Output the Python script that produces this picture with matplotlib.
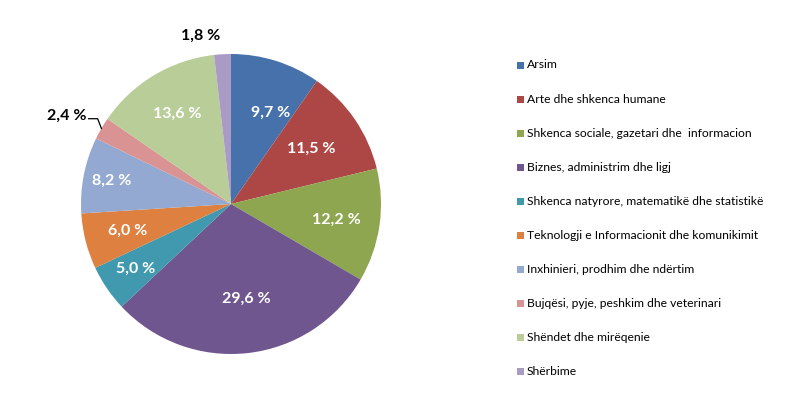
import numpy as np
import matplotlib
matplotlib.use('Agg')
from matplotlib import pyplot as plt
from matplotlib.patches import Rectangle

plt.rcParams['font.family'] = ['Lato', 'DejaVu Sans']

# data
categories = ['Arsim',
              'Arte dhe shkenca humane',
              'Shkenca sociale, gazetari dhe  informacion',
              'Biznes, administrim dhe ligj',
              'Shkenca natyrore, matematikë dhe statistikë',
              'Teknologji e Informacionit dhe komunikimit',
              'Inxhinieri, prodhim dhe ndërtim',
              'Bujqësi, pyje, peshkim dhe veterinari',
              'Shëndet dhe mirëqenie',
              'Shërbime']
values = [9.7, 11.5, 12.2, 29.6, 5.0, 6.0, 8.2, 2.4, 13.6, 1.8]
labels = ['9,7 %', '11,5 %', '12,2 %', '29,6 %', '5,0 %', '6,0 %',
          '8,2 %', '2,4 %', '13,6 %', '1,8 %']
colors = ['#4671AA', '#AD4745', '#8DA64F', '#70568F', '#4099AE',
          '#DD8040', '#93A9D2', '#D89392', '#B8CD97', '#A99BC5']

# label placement inside the wedges (radius, angle shift in degrees)
label_pos = [(0.66, -6), (0.65, 0), (0.71, 0), (0.64, 3), (0.77, 0),
             (0.71, 0), (0.81, 0), None, (0.70, 0), None]

fig = plt.figure(figsize=(7.94, 3.94), dpi=100)
W, H = 794, 394
cx, cy, r = 231, 204, 150
ax = fig.add_axes([(cx - r) / W, (H - cy - r) / H, 2 * r / W, 2 * r / H])

wedges, _ = ax.pie(values, colors=colors, startangle=90, counterclock=False,
                   radius=1, wedgeprops=dict(linewidth=0))
ax.set_xlim(-1, 1)
ax.set_ylim(-1, 1)
ax.set_aspect('equal')
ax.axis('off')

# labels
for i, w in enumerate(wedges):
    if label_pos[i] is None:
        continue
    d, shift = label_pos[i]
    ang = np.deg2rad((w.theta1 + w.theta2) / 2 + shift)
    ax.text(d * np.cos(ang), d * np.sin(ang), labels[i], ha='center', va='center',
            color='white', fontsize=11.5, fontweight='bold')

# small slices: outside labels
w = wedges[7]
ang = np.deg2rad((w.theta1 + w.theta2) / 2)
ex, ey = np.cos(ang), np.sin(ang)
ax.plot([ex, ex - 0.025, ex - 0.085], [ey, ey + 0.065, ey + 0.065], color='black',
        lw=0.9, clip_on=False)
ax.text(ex - 0.1, ey + 0.085, labels[7], ha='right', va='center', color='black',
        fontsize=11.5, fontweight='bold', clip_on=False)

ax.text(-0.2, 1.12, labels[9], ha='center', va='center', color='black',
        fontsize=11.5, fontweight='bold', clip_on=False)

# legend
for i, cat in enumerate(categories):
    y = 65 + i * 34.1
    fig.patches.append(Rectangle((517 / W, 1 - (y + 3.5) / H), 7 / W, 7 / H,
                                 facecolor=colors[i], edgecolor='none',
                                 transform=fig.transFigure, figure=fig))
    fig.text(527 / W, 1 - y / H, cat, ha='left', va='center', fontsize=8.7,
             color='black')

fig.savefig('out.png', dpi=100)
